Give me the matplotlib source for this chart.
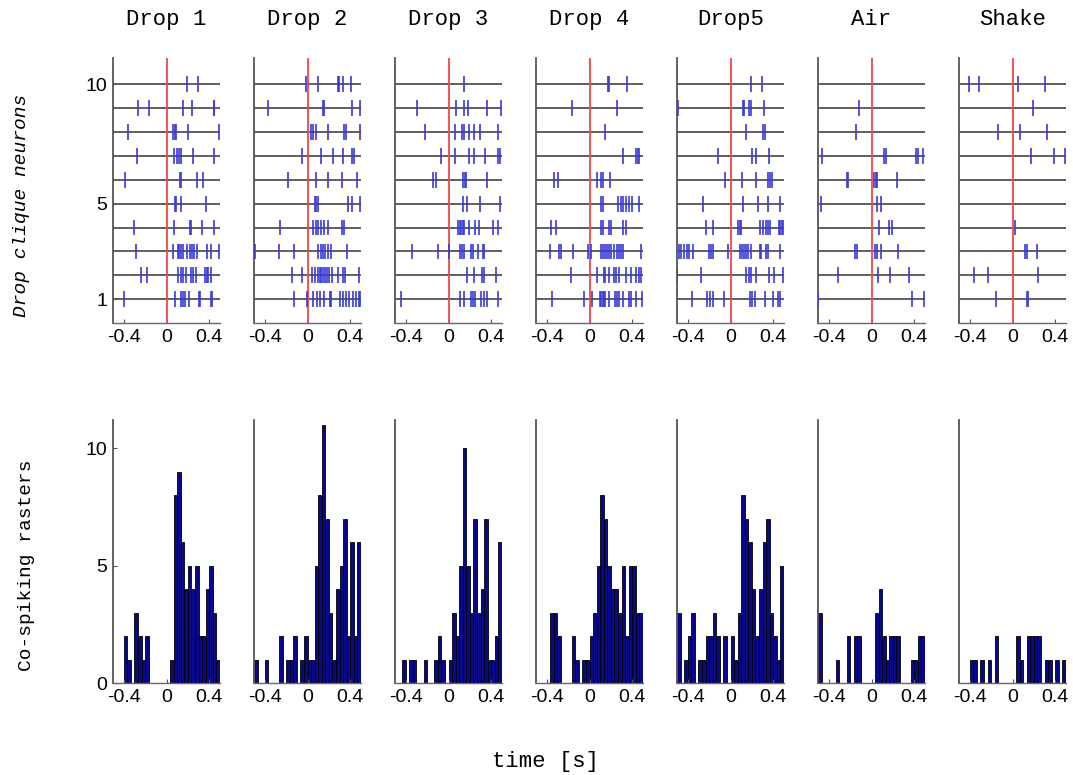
"""
Drop clique raster and co-spiking histogram figure.
"""
import numpy as np
import matplotlib
matplotlib.use("Agg")
import matplotlib.pyplot as plt

plt.rcParams["font.family"] = ["Liberation Sans", "DejaVu Sans"]
plt.rcParams["axes.unicode_minus"] = False

titles = ["Drop 1", "Drop 2", "Drop 3", "Drop 4", "Drop5", "Air", "Shake"]

# spike times (s) per neuron, rows listed from neuron 1 (bottom) to neuron 10 (top)
drop1_spikes = [
    [-0.40, 0.075, 0.138, 0.157, 0.176, 0.213, 0.301, 0.314, 0.414, 0.427],
    [-0.238, -0.182, 0.107, 0.132, 0.157, 0.182, 0.226, 0.251, 0.273, 0.364, 0.376, 0.389, 0.414],
    [-0.282, 0.063, 0.107, 0.119, 0.135, 0.151, 0.191, 0.22, 0.238, 0.257, 0.282, 0.383, 0.417, 0.493],
    [-0.301, 0.072, 0.22, 0.232, 0.336, 0.44],
    [0.075, 0.088, 0.132, 0.373],
    [-0.392, 0.125, 0.132, 0.282, 0.342],
    [-0.276, 0.072, 0.094, 0.113, 0.132, 0.248, 0.446],
    [-0.364, 0.06, 0.075, 0.091, 0.204, 0.495],
    [-0.267, -0.166, 0.151, 0.235, 0.44, 0.446],
    [0.195, 0.295],
]
drop2_spikes = [
    [-0.125, -0.006, 0.047, 0.088, 0.119, 0.151, 0.207, 0.22, 0.307, 0.329, 0.361, 0.392, 0.423, 0.449, 0.477, 0.492],
    [-0.141, -0.053, 0.044, 0.069, 0.094, 0.113, 0.125, 0.144, 0.163, 0.182, 0.204, 0.226, 0.282, 0.336, 0.351, 0.477],
    [-0.493, -0.267, -0.125, 0.10, 0.125, 0.144, 0.163, 0.194, 0.22, 0.373],
    [-0.26, 0.056, 0.078, 0.10, 0.125, 0.151, 0.188, 0.326, 0.345],
    [0.069, 0.082, 0.10, 0.376, 0.42, 0.492],
    [-0.179, 0.075, 0.188, 0.326, 0.461],
    [-0.047, 0.122, 0.235, 0.336, 0.42, 0.439],
    [0.031, 0.056, 0.082, 0.188, 0.345, 0.358, 0.486],
    [-0.37, 0.144, 0.157, 0.414, 0.486],
    [-0.016, 0.10, 0.282, 0.295, 0.336, 0.408],
]
drop3_spikes = [
    [-0.442, 0.107, 0.141, 0.21, 0.229, 0.248, 0.301, 0.332, 0.364, 0.467],
    [0.173, 0.242, 0.311, 0.336, 0.44],
    [-0.345, -0.097, 0.006, 0.104, 0.125, 0.147, 0.21, 0.229, 0.273, 0.32, 0.336],
    [0.091, 0.104, 0.116, 0.132, 0.147, 0.195, 0.248, 0.285, 0.417, 0.461],
    [0.135, 0.173, 0.292, 0.483],
    [-0.147, -0.119, 0.135, 0.154, 0.166, 0.361],
    [-0.069, 0.06, 0.188, 0.242, 0.342, 0.461, 0.48],
    [-0.22, 0.063, 0.125, 0.141, 0.188, 0.242, 0.295, 0.467],
    [-0.292, 0.072, 0.147, 0.185, 0.358, 0.486],
    [0.147],
]
drop4_spikes = [
    [-0.348, -0.056, 0.028, 0.097, 0.11, 0.122, 0.135, 0.147, 0.179, 0.235, 0.254, 0.273, 0.317, 0.367, 0.386, 0.439, 0.486],
    [-0.172, 0.072, 0.135, 0.141, 0.185, 0.229, 0.248, 0.273, 0.339, 0.386, 0.43, 0.461, 0.48],
    [-0.367, -0.285, -0.267, -0.151, -0.016, 0.016, 0.11, 0.129, 0.147, 0.166, 0.185, 0.204, 0.229, 0.254, 0.279, 0.298, 0.317, 0.48],
    [-0.361, -0.317, 0.11, 0.129, 0.179, 0.204, 0.317, 0.342],
    [0.11, 0.125, 0.267, 0.292, 0.317, 0.342, 0.367, 0.401, 0.461],
    [-0.329, -0.292, 0.072, 0.104, 0.125, 0.191],
    [0.317, 0.43, 0.449, 0.461],
    [0.141],
    [-0.163, 0.257],
    [0.173, 0.185, 0.348],
]
drop5_spikes = [
    [-0.361, -0.219, -0.191, -0.166, -0.063, 0.185, 0.198, 0.226, 0.323, 0.398, 0.445, 0.467],
    [-0.496, -0.273, 0.141, 0.169, 0.194, 0.238, 0.358, 0.408, 0.495],
    [-0.48, -0.458, -0.433, -0.411, -0.386, -0.348, -0.204, -0.179, -0.16, -0.019, 0.091, 0.11, 0.129,
     0.147, 0.166, 0.191, 0.273, 0.286, 0.336, 0.351, 0.467],
    [-0.226, -0.166, 0.066, 0.085, 0.097, 0.273, 0.304, 0.329, 0.348, 0.367, 0.455, 0.467, 0.48, 0.495],
    [-0.254, 0.116, 0.257, 0.355, 0.461],
    [-0.056, 0.104, 0.242, 0.355, 0.373, 0.386],
    [-0.116, 0.198, 0.242, 0.361],
    [0.141, 0.304, 0.32],
    [-0.489, 0.116, 0.129, 0.173, 0.191, 0.311],
    [0.188, 0.298],
]
air_spikes = [
    [-0.496, 0.376, 0.492],
    [-0.311, 0.06, 0.176, 0.355],
    [-0.157, -0.132, 0.035, 0.053, 0.088, 0.248],
    [0.066, 0.16, 0.191],
    [-0.47, 0.053, 0.091],
    [-0.232, -0.223, 0.022, 0.041, 0.053, 0.235],
    [-0.464, 0.119, 0.135, 0.417, 0.43, 0.48],
    [-0.144],
    [-0.116],
    [],
]
shake_spikes = [
    [-0.151, 0.135, 0.141],
    [-0.361, -0.232, 0.241],
    [0.116, 0.135, 0.232],
    [0.025],
    [],
    [],
    [0.169, 0.392, 0.492],
    [-0.132, 0.066, 0.32],
    [0.188],
    [-0.408, -0.317, 0.047, 0.304],
]

# co-spiking counts, 30 bins from -0.5 s to 0.5 s
drop1_counts = [0, 0, 0, 2, 1, 0, 3, 2, 1, 2, 0, 0, 0, 0, 0, 0, 1, 8, 9, 6, 4, 5, 4, 5, 2, 2, 4, 5, 3, 1]
drop2_counts = [1, 0, 0, 1, 0, 0, 0, 2, 0, 1, 1, 2, 0, 1, 2, 1, 1, 5, 8, 11, 7, 3, 1, 4, 5, 7, 2, 6, 2, 6]
drop3_counts = [0, 0, 1, 0, 1, 1, 0, 0, 1, 0, 0, 1, 2, 1, 0, 1, 3, 2, 5, 10, 5, 3, 7, 3, 4, 7, 1, 1, 2, 6]
drop4_counts = [0, 0, 0, 0, 3, 3, 2, 0, 0, 0, 2, 1, 0, 1, 1, 2, 3, 5, 8, 7, 5, 4, 4, 3, 5, 2, 5, 5, 3, 3]
drop5_counts = [3, 0, 1, 2, 3, 0, 1, 1, 2, 2, 3, 2, 0, 2, 0, 2, 1, 3, 8, 7, 6, 4, 2, 4, 6, 7, 3, 2, 1, 5]
air_counts = [3, 0, 0, 0, 0, 1, 0, 0, 2, 0, 2, 2, 0, 0, 0, 0, 3, 4, 2, 1, 2, 2, 2, 0, 0, 0, 1, 1, 2, 2]
shake_counts = [0, 0, 0, 1, 1, 0, 1, 0, 1, 0, 2, 0, 0, 0, 0, 0, 2, 1, 0, 2, 2, 2, 2, 0, 1, 1, 0, 1, 0, 1]

all_spikes = [drop1_spikes, drop2_spikes, drop3_spikes, drop4_spikes, drop5_spikes, air_spikes, shake_spikes]
all_counts = [drop1_counts, drop2_counts, drop3_counts, drop4_counts, drop5_counts, air_counts, shake_counts]

W, H = 1073, 775
fig = plt.figure(figsize=(W / 100, H / 100), dpi=100)

x0, pw, step = 113 / W, 107 / W, 141 / W
top_b, top_h = 1 - 323 / H, 265 / H
bot_b, bot_h = 1 - 683 / H, 263 / H
edges = np.linspace(-0.5, 0.5, 31)
mono = ["Liberation Mono", "DejaVu Sans Mono"]


def style(ax, first):
    for s in ["top", "right"]:
        ax.spines[s].set_visible(False)
    ax.spines["left"].set_color("#555555")
    ax.spines["bottom"].set_color("#666666")
    ax.spines["left"].set_linewidth(1.3)
    ax.spines["bottom"].set_linewidth(1.0)
    ax.set_xlim(-0.5, 0.5)
    ax.set_xticks([-0.4, 0, 0.4])
    ax.set_xticklabels(["-0.4", "0", "0.4"])
    ax.tick_params(direction="in", length=3, labelsize=14, pad=4, color="#555555")
    if not first:
        ax.tick_params(axis="y", left=False, labelleft=False)


for i, name in enumerate(titles):
    ax = fig.add_axes([x0 + i * step, top_b, pw, top_h])
    for r, times in enumerate(all_spikes[i]):
        y = r + 1
        ax.axhline(y, color="#333333", lw=1.1, zorder=1)
        if times:
            ax.vlines(times, y - 0.33, y + 0.33, color="#3a3ad8", lw=1.2, zorder=3)
    ax.axvline(0, color="#f04848", lw=1.3, zorder=2)
    ax.set_ylim(0, 11.1)
    ax.set_yticks([1, 5, 10])
    style(ax, i == 0)
    ax.set_title(name, family=mono, fontsize=16, pad=24)

    bx = fig.add_axes([x0 + i * step, bot_b, pw, bot_h])
    bx.bar(edges[:-1], all_counts[i], width=np.diff(edges), align="edge",
           color="#08088a", edgecolor="black", linewidth=0.6)
    bx.set_ylim(0, 11.2)
    bx.set_yticks([0, 5, 10])
    style(bx, i == 0)

fig.text(22 / W, 1 - 205 / H, "Drop clique neurons", rotation=90, ha="center", va="center",
         family=mono, style="italic", fontsize=14)
fig.text(27 / W, 1 - 565 / H, "Co-spiking rasters", rotation=90, ha="center", va="center",
         family=mono, fontsize=14)
fig.text(545 / W, 1 - 762 / H, "time [s]", ha="center", va="center", family=mono, fontsize=16)

fig.savefig("out.png", dpi=100)
